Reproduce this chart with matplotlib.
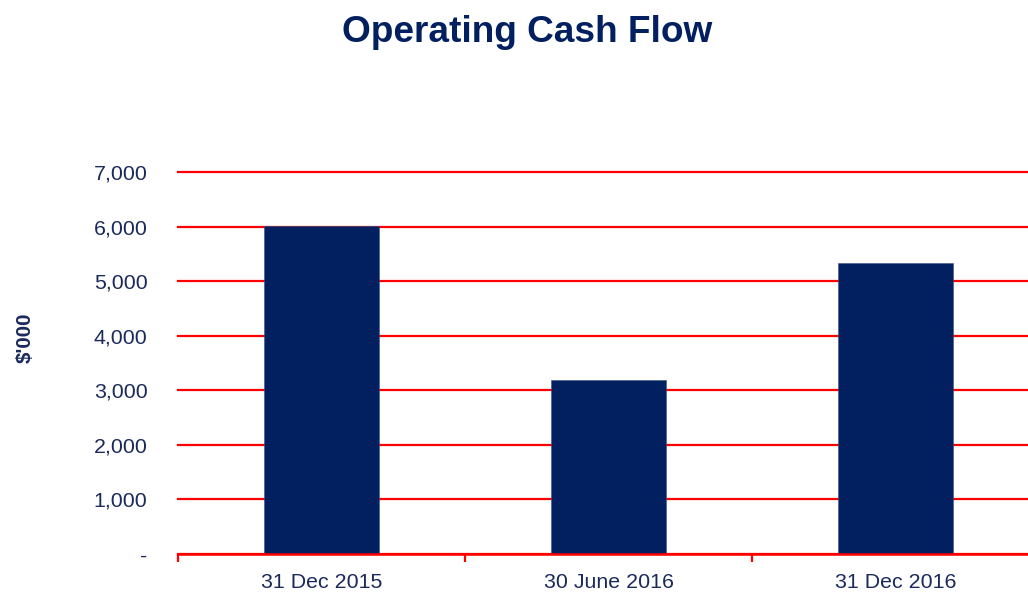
import matplotlib
matplotlib.use("Agg")
import matplotlib.pyplot as plt
from matplotlib import font_manager
from matplotlib.ticker import FixedLocator, FuncFormatter

categories = ["31 Dec 2015", "30 June 2016", "31 Dec 2016"]
values = [6010, 3190, 5330]
yticks = [0, 1000, 2000, 3000, 4000, 5000, 6000, 7000]

names = {f.name for f in font_manager.fontManager.ttflist}
if "Liberation Sans Narrow" in names:
    fam, k = "Liberation Sans Narrow", 1.0
else:
    fam, k = "Liberation Sans", 0.82

navy = "#02205F"
text_navy = "#1B2A5C"
red = "#FF0000"

fig = plt.figure(figsize=(10.28, 5.98), dpi=100)
W, H = 1028, 598
left, right, top, bottom = 178, 1039, 172, 554
ax = fig.add_axes([left / W, 1 - bottom / H, (right - left) / W, (bottom - top) / H])

x = list(range(len(categories)))
ax.bar(x, values, width=0.4, color=navy, edgecolor="#3a4f85", linewidth=0.4, zorder=3)

ax.set_xlim(-0.5, len(categories) - 0.5)
ax.set_ylim(0, 7000)
ax.yaxis.set_major_locator(FixedLocator(yticks))
ax.yaxis.set_major_formatter(FuncFormatter(lambda v, p: "-" if v == 0 else f"{int(v):,}"))
ax.grid(axis="y", color=red, linewidth=1.6, zorder=1)
ax.set_axisbelow(True)
for gl in ax.yaxis.get_gridlines():
    gl.set_clip_on(False)

ax.set_xticks(x)
ax.set_xticklabels(categories)
ax.set_xticks([i - 0.5 for i in range(len(categories) + 1)], minor=True)
ax.tick_params(axis="x", which="major", length=0, pad=14, labelsize=18.8 * k, labelcolor=text_navy)
ax.tick_params(axis="x", which="minor", length=6, width=1.6, color=red, direction="out")
ax.tick_params(axis="y", length=0, pad=22, labelsize=18.8 * k, labelcolor=text_navy)
for lab in ax.get_xticklabels() + ax.get_yticklabels():
    lab.set_fontfamily(fam)

for s in ["top", "right", "left"]:
    ax.spines[s].set_visible(False)
ax.spines["bottom"].set_color(red)
ax.spines["bottom"].set_linewidth(1.8)
ax.spines["bottom"].set_zorder(4)

fig.text(527 / W, 1 - 32 / H, "Operating Cash Flow", ha="center", va="center",
         fontsize=32.5 * k, fontweight="bold", color=navy, family=fam)
fig.text(25 / W, 1 - 338 / H, "$'000", ha="center", va="center", rotation=90,
         fontsize=18 * k, fontweight="bold", color=text_navy, family=fam)

fig.savefig("out.png", dpi=100)
